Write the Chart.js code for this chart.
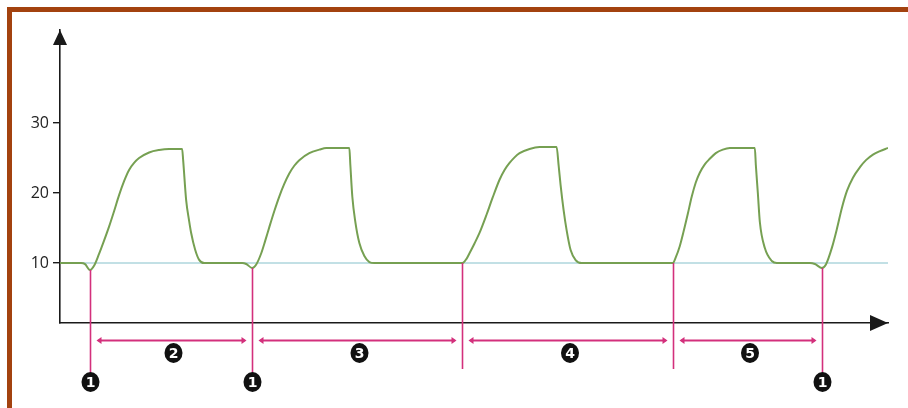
<!DOCTYPE html>
<html>
<head>
<meta charset="utf-8">
<script src="https://cdn.jsdelivr.net/npm/chart.js@4"></script>
<style>
  body { margin: 0; background: #fff; }
  .wrap { position: relative; width: 908px; height: 408px; overflow: hidden; }
  .frame {
    position: absolute; left: 7px; top: 7px; right: 0; bottom: 0;
    border-top: 5px solid #a3420f; border-left: 5px solid #a3420f;
    pointer-events: none;
  }
</style>
</head>
<body>
<div class="wrap">
  <canvas id="wave" width="908" height="408"></canvas>
  <div class="frame"></div>
</div>
<script>
// time (arbitrary units) and pressure
const times = [
	0, 2.1, 2.5, 3.0, 3.4, 3.9, 4.4, 4.9, 5.4, 5.9, 6.4, 6.9, 7.4, 7.9, 8.9, 9.9, 10.9, 12.2, 12.3, 12.6, 12.9, 13.1, 13.5, 13.9, 14.4,
	18.2, 18.6, 19.2, 19.6, 20.1, 20.5, 20.9, 21.4, 21.9, 22.4, 22.9, 23.4, 23.9, 24.9, 25.9, 26.6, 28.9, 29.0, 29.2, 29.5, 29.9, 30.4, 30.9, 31.4,
	39.9, 40.2, 40.6, 40.9, 41.4, 41.9, 42.6, 43.2, 43.9, 44.4, 44.9, 45.4, 45.9, 46.9, 47.9, 49.6, 49.8, 50.0, 50.3, 50.6, 51.0, 51.5, 52.1,
	60.9, 61.2, 61.5, 61.9, 62.3, 62.7, 63.1, 63.5, 63.9, 64.4, 64.9, 65.5, 66.2, 66.9, 69.4, 69.5, 69.7, 69.9, 70.4, 71.1, 71.6,
	74.9, 75.4, 76.1, 76.5, 77.1, 77.6, 78.1, 78.6, 79.2, 79.9, 80.5, 81.2, 81.9, 82.7
];
const pressure = [
	10, 10, 9.85, 9.0, 9.6, 11.3, 13.2, 15.2, 17.4, 19.7, 21.7, 23.3, 24.3, 25.0, 25.8, 26.15, 26.29, 26.29, 24.7, 19.0, 16.0, 14.3, 11.9, 10.45, 10,
	10, 9.86, 9.29, 9.8, 11.4, 13.2, 15.1, 17.4, 19.5, 21.3, 22.8, 23.9, 24.7, 25.7, 26.2, 26.43, 26.43, 24.0, 19.43, 15.86, 12.86, 11.0, 10.14, 10,
	10, 10, 10.6, 11.4, 12.8, 14.3, 16.9, 19.3, 21.9, 23.3, 24.3, 25.1, 25.7, 26.3, 26.57, 26.57, 24.0, 21.14, 17.57, 14.71, 11.86, 10.43, 10,
	10, 10, 10.8, 12.4, 14.6, 17.0, 19.5, 21.5, 22.9, 24.1, 24.9, 25.7, 26.2, 26.43, 26.43, 24.0, 20.0, 15.86, 12.14, 10.29, 10,
	10, 9.86, 9.29, 9.8, 12.2, 14.9, 17.9, 20.3, 22.2, 23.7, 24.7, 25.5, 26.0, 26.43
];
const baseline = 10;
const yTicks = [10, 20, 30];

// phase markers under the curve
const markerTimes = [3.0, 19.2, 40.2, 61.2, 76.1];
const markerTops = [9.0, 9.29, 10, 10, 9.29];
const triggerMarks = [0, 1, 4];          // markers with the "1" badge
const phaseLabels = ['2', '3', '4', '5']; // between consecutive markers

const PINK = '#d3307c';
const AXIS = '#1a1a1a';

function badge(ctx, cx, cy, txt) {
	ctx.fillStyle = '#111';
	ctx.beginPath();
	ctx.ellipse(cx, cy, 9, 10, 0, 0, Math.PI * 2);
	ctx.fill();
	ctx.fillStyle = '#fff';
	ctx.font = 'bold 14px "DejaVu Sans"';
	ctx.textAlign = 'center';
	ctx.textBaseline = 'middle';
	ctx.fillText(txt, cx, cy + 1);
}

const annotate = {
	id: 'annotate',
	afterDraw(chart) {
		const {ctx, chartArea: a, scales: {x, y}} = chart;
		ctx.save();
		// axis arrow heads
		ctx.fillStyle = AXIS;
		ctx.beginPath();
		ctx.moveTo(a.left, a.top);
		ctx.lineTo(a.left - 7, a.top + 15);
		ctx.lineTo(a.left + 7, a.top + 15);
		ctx.fill();
		ctx.beginPath();
		ctx.moveTo(a.right, a.bottom);
		ctx.lineTo(a.right - 18, a.bottom - 8);
		ctx.lineTo(a.right - 18, a.bottom + 8);
		ctx.fill();

		// vertical markers
		const px = markerTimes.map(t => Math.round(x.getPixelForValue(t)) + 0.5);
		ctx.strokeStyle = PINK;
		ctx.lineWidth = 1.6;
		px.forEach((p, i) => {
			const trig = triggerMarks.includes(i);
			ctx.beginPath();
			ctx.moveTo(p, y.getPixelForValue(markerTops[i]));
			ctx.lineTo(p, a.bottom + (trig ? 50 : 46));
			ctx.stroke();
		});

		// double arrows between markers
		const rowY = a.bottom + 17.5;
		ctx.fillStyle = PINK;
		ctx.lineWidth = 2;
		for (let i = 0; i < px.length - 1; i++) {
			const l = px[i] + 6, r = px[i + 1] - 6;
			ctx.beginPath();
			ctx.moveTo(l + 2, rowY);
			ctx.lineTo(r - 2, rowY);
			ctx.stroke();
			ctx.beginPath();
			ctx.moveTo(l, rowY); ctx.lineTo(l + 5, rowY - 3.5); ctx.lineTo(l + 5, rowY + 3.5);
			ctx.fill();
			ctx.beginPath();
			ctx.moveTo(r, rowY); ctx.lineTo(r - 5, rowY - 3.5); ctx.lineTo(r - 5, rowY + 3.5);
			ctx.fill();
			badge(ctx, (l + r) / 2 + 2, a.bottom + 30, phaseLabels[i]);
			ctx.strokeStyle = PINK;
			ctx.fillStyle = PINK;
		}

		// trigger badges
		triggerMarks.forEach(i => badge(ctx, px[i], a.bottom + 59, '1'));
		ctx.restore();
	}
};

new Chart(document.getElementById('wave'), {
	type: 'line',
	data: {
		datasets: [{
			data: times.map((t, i) => ({x: t, y: pressure[i]})),
			borderColor: '#76a052',
			borderWidth: 2,
			pointRadius: 0,
			cubicInterpolationMode: 'monotone',
			fill: false
		}, {
			data: [{x: times[0], y: baseline}, {x: times[times.length - 1], y: baseline}],
			borderColor: '#aed6dd',
			borderWidth: 1.5,
			pointRadius: 0,
			fill: false
		}]
	},
	plugins: [annotate],
	options: {
		responsive: false,
		animation: false,
		devicePixelRatio: 1,
		layout: {
			padding: {top: 30, right: 20, bottom: 85, left: 0}
		},
		plugins: {
			legend: {display: false},
			tooltip: {enabled: false}
		},
		scales: {
			x: {
				type: 'linear',
				min: 0,
				max: 82.7,
				ticks: {display: false},
				grid: {drawOnChartArea: false, drawTicks: false},
				border: {color: AXIS, width: 1.6},
				afterFit(scale) { scale.height = 0; }
			},
			y: {
				min: 1.43,
				max: 43.3,
				afterBuildTicks(scale) {
					scale.ticks = yTicks.map(v => ({value: v}));
				},
				ticks: {
					color: '#222',
					padding: 4,
					font: {family: '"Open Sans"', size: 16}
				},
				grid: {drawOnChartArea: false, tickLength: 7, color: AXIS, lineWidth: 1.4},
				border: {color: AXIS, width: 1.6},
				afterFit(scale) { scale.width = 60; }
			}
		}
	}
});
</script>
</body>
</html>
